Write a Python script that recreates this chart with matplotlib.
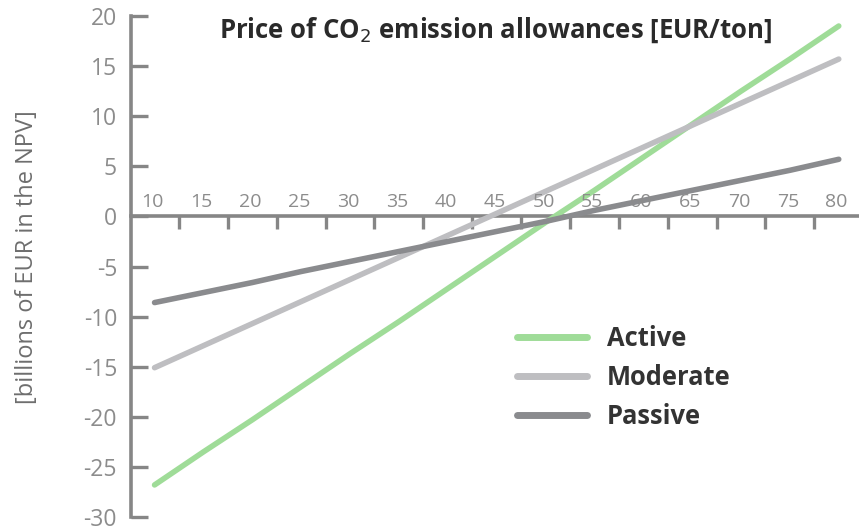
import matplotlib
matplotlib.use("Agg")
import matplotlib.pyplot as plt

# CO2 allowance price [EUR/ton]
prices = [10, 15, 20, 25, 30, 35, 40, 45, 50, 55, 60, 65, 70, 75, 80]
price_labels = [str(p) for p in prices]

# Net present value [billions of EUR] per scenario
active = [-26.8, -23.5, -20.3, -17.0, -13.7, -10.5, -7.2, -3.9, -0.6, 2.6, 5.9, 9.2, 12.5, 15.7, 19.0]
moderate = [-15.1, -12.9, -10.7, -8.5, -6.3, -4.1, -1.9, 0.3, 2.5, 4.7, 6.9, 9.1, 11.3, 13.5, 15.7]
passive = [-8.6, -7.6, -6.6, -5.5, -4.5, -3.5, -2.5, -1.5, -0.5, 0.6, 1.6, 2.6, 3.6, 4.6, 5.7]

y_ticks = [20, 15, 10, 5, 0, -5, -10, -15, -20, -25, -30]

axis_grey = "#868686"
label_grey = "#8c8c8c"
plt.rcParams["font.family"] = ["Open Sans", "DejaVu Sans"]

W, H = 859, 531
fig = plt.figure(figsize=(W / 100, H / 100), dpi=100)
ax = fig.add_axes([131 / W, 14 / H, 1 - 131 / W, 501 / H])

ax.set_xlim(7.59, 82.07)
ax.set_ylim(-30, 20)

series = [
    ("Active", active, "#9fdc98"),
    ("Moderate", moderate, "#bebec1"),
    ("Passive", passive, "#8a8b8e"),
]
for name, vals, col in series:
    ax.plot(prices, vals, color=col, lw=4.0, solid_capstyle="round", label=name, zorder=3)

# spines: left axis plus a horizontal axis through zero
for s in ["top", "right"]:
    ax.spines[s].set_visible(False)
ax.spines["left"].set_color(axis_grey)
ax.spines["left"].set_linewidth(2.6)
ax.spines["bottom"].set_position(("data", 0))
ax.spines["bottom"].set_color(axis_grey)
ax.spines["bottom"].set_linewidth(2.6)
ax.spines["bottom"].set_zorder(2)

ax.set_yticks(y_ticks)
ax.set_yticklabels([str(v) for v in y_ticks])
ax.tick_params(axis="y", direction="in", length=12, width=2.4, color=axis_grey,
               labelsize=16.5, labelcolor=label_grey, pad=10)

# x ticks sit between the price categories; labels above the axis
mids = [(a + b) / 2 for a, b in zip(prices[:-1], prices[1:])]
ax.set_xticks(mids)
ax.set_xticklabels([])
ax.tick_params(axis="x", direction="out", length=9, width=2.4, color=axis_grey)
for p, lab in zip(prices, price_labels):
    ax.annotate(lab, xy=(p, 0), xytext=(-1.5, 7), textcoords="offset points",
                ha="center", va="baseline", fontsize=14, color=label_grey)

fig.text(27 / W, 1 - 257 / H, "[billions of EUR in the NPV]", rotation=90,
         ha="center", va="center", fontsize=17, color="#6e6e6e")

fig.text(495 / W, 1 - 30 / H, "Price of CO$_2$ emission allowances [EUR/ton]",
         ha="center", va="center", fontsize=18.5, fontweight="bold", color="#2a2a2a")

leg = ax.legend(loc="upper left", bbox_to_anchor=(517 / W, 1 - 325 / H),
                bbox_transform=fig.transFigure, frameon=False, borderpad=0,
                borderaxespad=0, handlelength=2.73, handletextpad=0.78,
                labelspacing=0.46, prop={"size": 18.4, "weight": "bold"})
for t in leg.get_texts():
    t.set_color("#333333")
for h in leg.get_lines():
    h.set_linewidth(5)

fig.savefig("out.png", dpi=100)
